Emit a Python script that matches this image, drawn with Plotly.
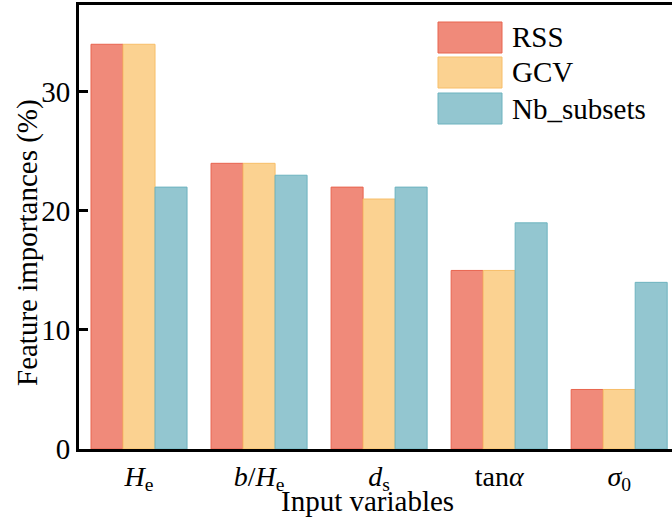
import plotly.graph_objects as go

categories = ["<i>H</i><sub>e</sub>", "<i>b</i>/<i>H</i><sub>e</sub>", "<i>d</i><sub>s</sub>",
              "tan<i>α</i>", "<i>σ</i><sub>0</sub>"]
series_names = ["RSS", "GCV", "Nb_subsets"]
rss = [34, 24, 22, 15, 5]
gcv = [34, 24, 21, 15, 5]
nb_subsets = [22, 23, 22, 19, 14]
y_ticks = [0, 10, 20, 30]
x_title = "Input variables"
y_title = "Feature importances (%)"

fills = ["#F08A7A", "#FBD291", "#93C6D0"]
edges = ["#E8644F", "#F7BE68", "#6DB3BF"]
values = [rss, gcv, nb_subsets]

FONT = "Liberation Serif, Times New Roman, serif"
FS = 29
x_idx = list(range(len(categories)))

fig = go.Figure()
for name, vals, fc, ec in zip(series_names, values, fills, edges):
    fig.add_trace(go.Bar(x=x_idx, y=vals, name=name, marker=dict(color=fc, line=dict(color=ec, width=1)),
                         showlegend=False))

L, T = 79, 5
W, H = 593, 444

def px_x(px):
    return (px - L) / W

def px_y(py):
    return (T + H - py) / H

# custom legend with large swatches
box_x0, box_x1 = 438, 502
tops = [22, 57, 93]
for name, fc, ec, top in zip(series_names, fills, edges, tops):
    fig.add_shape(type="rect", xref="paper", yref="paper",
                  x0=px_x(box_x0), x1=px_x(box_x1),
                  y0=px_y(top + 31), y1=px_y(top),
                  fillcolor=fc, line=dict(color=ec, width=1))
    fig.add_annotation(xref="paper", yref="paper", x=px_x(510), y=px_y(top + 15.5),
                       text=name, showarrow=False, xanchor="left", yanchor="middle",
                       font=dict(family=FONT, size=FS, color="black"))

# axis titles
fig.add_annotation(xref="paper", yref="paper", x=px_x(367), y=px_y(501),
                   text=x_title, showarrow=False, xanchor="center", yanchor="middle",
                   font=dict(family=FONT, size=FS, color="black"))
fig.add_annotation(xref="paper", yref="paper", x=px_x(27), y=px_y(243),
                   text=y_title, showarrow=False, xanchor="center", yanchor="middle", textangle=-90,
                   font=dict(family=FONT, size=FS, color="black"))

fig.update_layout(
    width=672, height=522,
    margin=dict(l=L, r=672 - L - W, t=T, b=522 - T - H),
    paper_bgcolor="white", plot_bgcolor="white",
    barmode="group", bargap=0.2, bargroupgap=0,
    font=dict(family=FONT, size=FS, color="black"),
    xaxis=dict(range=[-0.5, 4.44], tickmode="array", tickvals=x_idx, ticktext=categories,
               showline=True, linecolor="black", linewidth=3, mirror=True,
               ticks="", showgrid=False, zeroline=False,
               tickfont=dict(size=28)),
    yaxis=dict(range=[0, 37.3], tickmode="array", tickvals=y_ticks,
               showline=True, linecolor="black", linewidth=3, mirror=False,
               ticks="inside", ticklen=9, tickwidth=3, tickcolor="black",
               showgrid=False, zeroline=False,
               tickfont=dict(size=FS)),
)

fig.write_html("out.html")
